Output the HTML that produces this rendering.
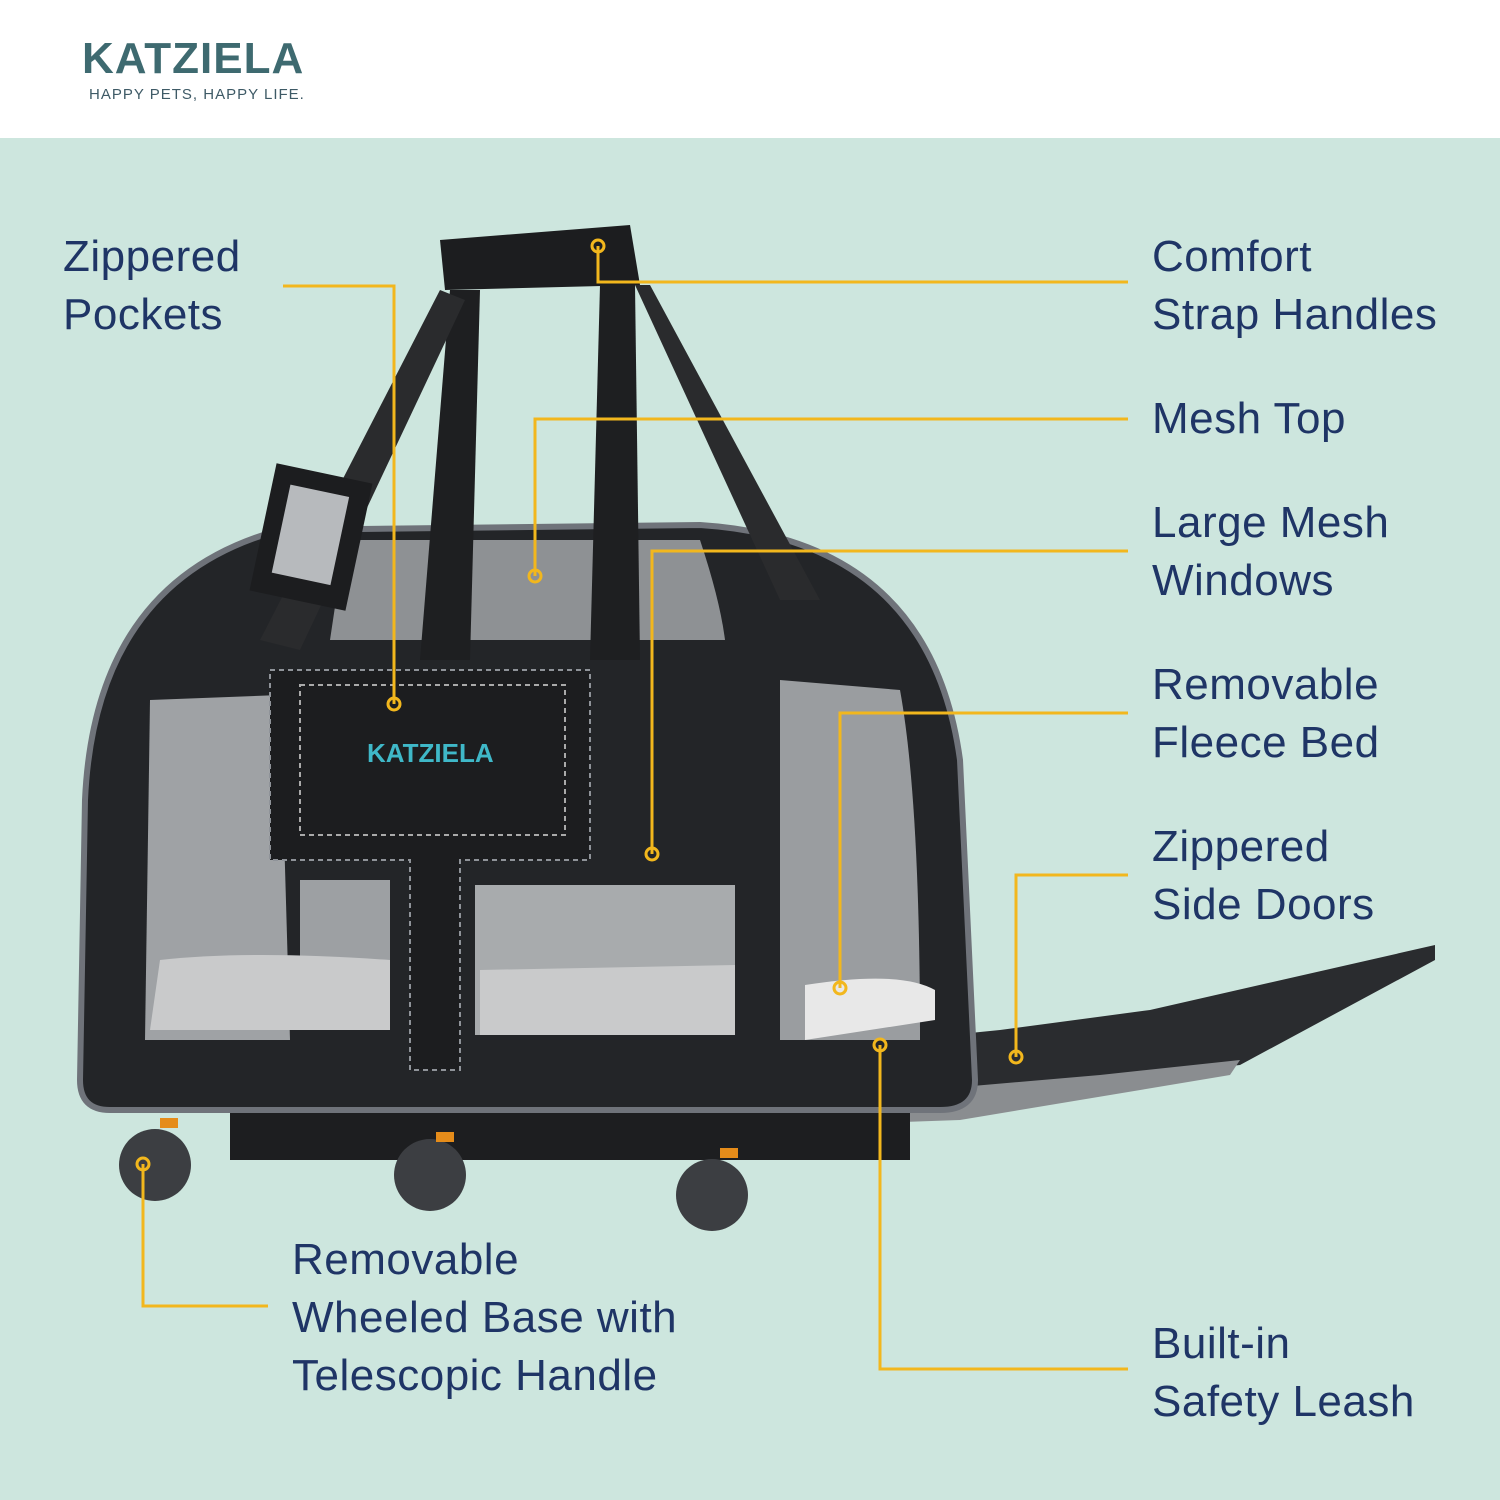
<!DOCTYPE html>
<html><head><meta charset="utf-8"><style>
html,body{margin:0;padding:0;}
body{width:1500px;height:1500px;position:relative;overflow:hidden;background:#fff;font-family:"Liberation Sans",sans-serif;}
.bg{position:absolute;left:0;top:138px;width:1500px;height:1362px;background:#cde6de;}
.lbl{position:absolute;color:#1f3566;font-size:44px;line-height:58px;letter-spacing:0.5px;}
.logo{position:absolute;left:82px;top:34px;color:#3e6a70;font-size:44px;font-weight:bold;letter-spacing:1px;}
.tag{position:absolute;left:89px;top:86px;color:#3e5a66;font-size:15px;letter-spacing:1px;}
svg{position:absolute;left:0;top:0;}
</style></head><body>
<div class="bg"></div>
<div class="logo">KATZIELA</div>
<div class="tag">HAPPY PETS, HAPPY LIFE.</div>
<svg width="1500" height="1500" viewBox="0 0 1500 1500">
 <!-- door flap -->
 <polygon points="800,1050 1000,1030 1150,1010 1435,945 1435,960 1240,1065 1100,1080 960,1100 810,1110" fill="#2a2c2f"/>
 <polygon points="810,1100 1100,1075 1240,1060 1230,1075 960,1120 820,1125" fill="#8a8d90"/>
 <!-- base -->
 <rect x="230" y="1090" width="680" height="70" fill="#1d1e20"/>
 <!-- body -->
 <path d="M80,1080 L85,800 Q95,580 280,530 L700,525 Q930,540 960,760 L975,1080 Q975,1110 940,1110 L110,1110 Q80,1110 80,1080 Z" fill="#232528" stroke="#6f737a" stroke-width="6"/>
 <!-- mesh panels -->
 <path d="M150,700 L280,695 L290,1040 L145,1040 Z" fill="#9fa2a5"/>
 <rect x="475" y="885" width="260" height="150" fill="#a8abad"/>
 <rect x="300" y="880" width="90" height="150" fill="#9da0a3"/>
 <path d="M780,680 L900,690 Q920,800 920,1040 L780,1040 Z" fill="#9a9da0"/>
 <path d="M345,540 L700,540 Q720,600 725,640 L330,640 Z" fill="#8e9194"/>
 <path d="M160,960 Q250,950 390,960 L390,1030 L150,1030 Z" fill="#c9cacb"/>
 <path d="M480,970 L735,965 L735,1035 L480,1035 Z" fill="#c9cacb"/>
 <path d="M805,985 Q900,970 935,990 L935,1020 L805,1040 Z" fill="#e8e8e8"/>
 <!-- front panel T -->
 <path d="M270,670 L590,670 L590,860 L460,860 L460,1070 L410,1070 L410,860 L270,860 Z" fill="#1c1d1f" stroke="#8f9399" stroke-width="2" stroke-dasharray="5,4"/>
 <rect x="300" y="685" width="265" height="150" fill="none" stroke="#aaa" stroke-width="2" stroke-dasharray="5,4"/>
 <text x="367" y="762" font-family="Liberation Sans" font-weight="bold" font-size="26" fill="#3fb8c8">KATZIELA</text>
 <!-- handles -->
 <path d="M440,240 L630,225 L640,285 L445,290 Z" fill="#1c1d1f"/>
 <path d="M450,290 L420,660 L470,660 L480,290 Z" fill="#1e1f21"/>
 <path d="M600,285 L590,660 L640,660 L635,285 Z" fill="#1e1f21"/>
 <path d="M440,290 L260,640 L300,650 L465,300 Z" fill="#2a2b2d"/>
 <path d="M635,285 L780,600 L820,600 L650,285 Z" fill="#2a2b2d"/>
 <rect x="262" y="472" width="98" height="130" fill="#1c1d1f" transform="rotate(12 311 537)"/>
 <rect x="280" y="490" width="60" height="90" fill="#b7babd" transform="rotate(12 311 537)"/>
 <!-- wheels -->
 <g fill="#3c3e42"><circle cx="155" cy="1165" r="36"/><circle cx="430" cy="1175" r="36"/><circle cx="712" cy="1195" r="36"/></g>
 <g fill="#e58c1a"><rect x="160" y="1118" width="18" height="10"/><rect x="436" y="1132" width="18" height="10"/><rect x="720" y="1148" width="18" height="10"/></g>
 <!-- callout lines -->
 <g fill="none" stroke="#f2b71d" stroke-width="3">
  <polyline points="283,286 394,286 394,704"/>
  <polyline points="598,246 598,282 1128,282"/>
  <polyline points="1128,419 535,419 535,576"/>
  <polyline points="1128,551 652,551 652,854"/>
  <polyline points="1128,713 840,713 840,988"/>
  <polyline points="1128,875 1016,875 1016,1057"/>
  <polyline points="880,1045 880,1369 1128,1369"/>
  <polyline points="143,1164 143,1306 268,1306"/>
 </g>
 <g fill="none" stroke="#f2b71d" stroke-width="3">
  <circle cx="394" cy="704" r="6"/><circle cx="598" cy="246" r="6"/><circle cx="535" cy="576" r="6"/><circle cx="652" cy="854" r="6"/><circle cx="840" cy="988" r="6"/><circle cx="1016" cy="1057" r="6"/><circle cx="880" cy="1045" r="6"/><circle cx="143" cy="1164" r="6"/>
 </g>
</svg>
<div class="lbl" style="left:63px;top:228px">Zippered<br>Pockets</div>
<div class="lbl" style="left:1152px;top:228px">Comfort<br>Strap Handles</div>
<div class="lbl" style="left:1152px;top:390px">Mesh Top</div>
<div class="lbl" style="left:1152px;top:494px">Large Mesh<br>Windows</div>
<div class="lbl" style="left:1152px;top:656px">Removable<br>Fleece Bed</div>
<div class="lbl" style="left:1152px;top:818px">Zippered<br>Side Doors</div>
<div class="lbl" style="left:1152px;top:1315px">Built-in<br>Safety Leash</div>
<div class="lbl" style="left:292px;top:1231px">Removable<br>Wheeled Base with<br>Telescopic Handle</div>
</body></html>
